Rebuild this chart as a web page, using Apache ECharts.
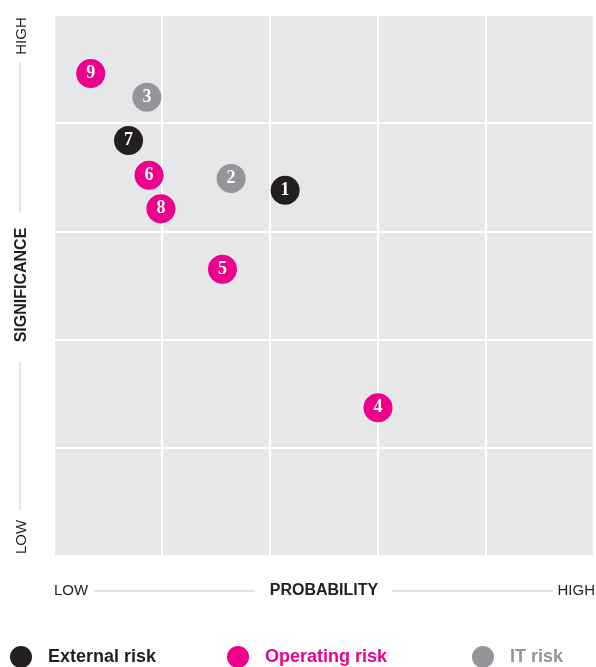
<!DOCTYPE html>
<html>
<head>
<meta charset="utf-8">
<script src="https://cdn.jsdelivr.net/npm/echarts@6/dist/echarts.min.js"></script>
<style>
  html, body { margin: 0; padding: 0; background: #ffffff; }
  #chart { width: 596px; height: 667px; }
</style>
</head>
<body>
<div id="chart"></div>
<script>
// risk data: [probability, significance, risk number]
var externalRisk = [[2.14, 3.38, 1], [0.69, 3.84, 7]];
var operatingRisk = [[3.0, 1.37, 4], [1.56, 2.65, 5], [0.88, 3.52, 6], [0.99, 3.21, 8], [0.34, 4.46, 9]];
var itRisk = [[1.64, 3.49, 2], [0.86, 4.24, 3]];
var seriesNames = ['External risk', 'Operating risk', 'IT risk'];
var seriesColors = ['#231f20', '#ec008c', '#939598'];

var chart = echarts.init(document.getElementById('chart'));

function riskSeries(name, data, color) {
    return {
        name: name,
        type: 'scatter',
        data: data,
        symbolSize: 29,
        itemStyle: { color: color, opacity: 1 },
        label: {
            show: true,
            position: 'inside',
            formatter: function (p) { return p.value[2]; },
            color: '#ffffff',
            fontFamily: 'Liberation Serif',
            fontWeight: 'bold',
            fontSize: 18
        },
        emphasis: { disabled: true }
    };
}

function legendItem(i, left) {
    return {
        left: left,
        top: 641,
        icon: 'circle',
        itemWidth: 22,
        itemHeight: 22,
        selectedMode: false,
        data: [seriesNames[i]],
        textStyle: {
            color: seriesColors[i],
            fontFamily: 'Liberation Sans',
            fontWeight: 'bold',
            fontSize: 18,
            padding: [0, 0, 0, 11]
        }
    };
}

var lineStyle = { stroke: '#e3e4e5', lineWidth: 2 };
var axisText = { fill: '#231f20', fontFamily: 'Liberation Sans', fontSize: 15 };
var axisBold = { fill: '#231f20', fontFamily: 'Liberation Sans', fontSize: 16, fontWeight: 'bold' };

chart.setOption({
    animation: false,
    grid: {
        left: 54, top: 15, width: 540, height: 541,
        show: true, backgroundColor: '#e6e7e8', borderWidth: 0
    },
    xAxis: {
        type: 'value', min: 0, max: 5, interval: 1,
        axisLine: { show: false }, axisTick: { show: false }, axisLabel: { show: false },
        splitLine: { show: true, lineStyle: { color: '#ffffff', width: 2 } }
    },
    yAxis: {
        type: 'value', min: 0, max: 5, interval: 1,
        axisLine: { show: false }, axisTick: { show: false }, axisLabel: { show: false },
        splitLine: { show: true, lineStyle: { color: '#ffffff', width: 2 } }
    },
    legend: [legendItem(0, 5), legendItem(1, 222), legendItem(2, 467)],
    series: [
        riskSeries(seriesNames[0], externalRisk, seriesColors[0]),
        riskSeries(seriesNames[1], operatingRisk, seriesColors[1]),
        riskSeries(seriesNames[2], itRisk, seriesColors[2])
    ],
    graphic: [
        // vertical axis caption
        { type: 'text', x: 22, y: 36, rotation: Math.PI / 2,
          style: Object.assign({ text: 'HIGH', align: 'center', verticalAlign: 'middle' }, axisText) },
        { type: 'line', shape: { x1: 20, y1: 62, x2: 20, y2: 212 }, style: lineStyle },
        { type: 'text', x: 22, y: 285, rotation: Math.PI / 2,
          style: Object.assign({ text: 'SIGNIFICANCE', align: 'center', verticalAlign: 'middle' }, axisBold) },
        { type: 'line', shape: { x1: 20, y1: 362, x2: 20, y2: 510 }, style: lineStyle },
        { type: 'text', x: 22, y: 537, rotation: Math.PI / 2,
          style: Object.assign({ text: 'LOW', align: 'center', verticalAlign: 'middle' }, axisText) },
        // horizontal axis caption
        { type: 'text', x: 54, y: 591,
          style: Object.assign({ text: 'LOW', align: 'left', verticalAlign: 'middle' }, axisText) },
        { type: 'line', shape: { x1: 94, y1: 591, x2: 255, y2: 591 }, style: lineStyle },
        { type: 'text', x: 324, y: 591,
          style: Object.assign({ text: 'PROBABILITY', align: 'center', verticalAlign: 'middle' }, axisBold) },
        { type: 'line', shape: { x1: 392, y1: 591, x2: 553, y2: 591 }, style: lineStyle },
        { type: 'text', x: 595, y: 591,
          style: Object.assign({ text: 'HIGH', align: 'right', verticalAlign: 'middle' }, axisText) }
    ]
});
</script>
</body>
</html>
